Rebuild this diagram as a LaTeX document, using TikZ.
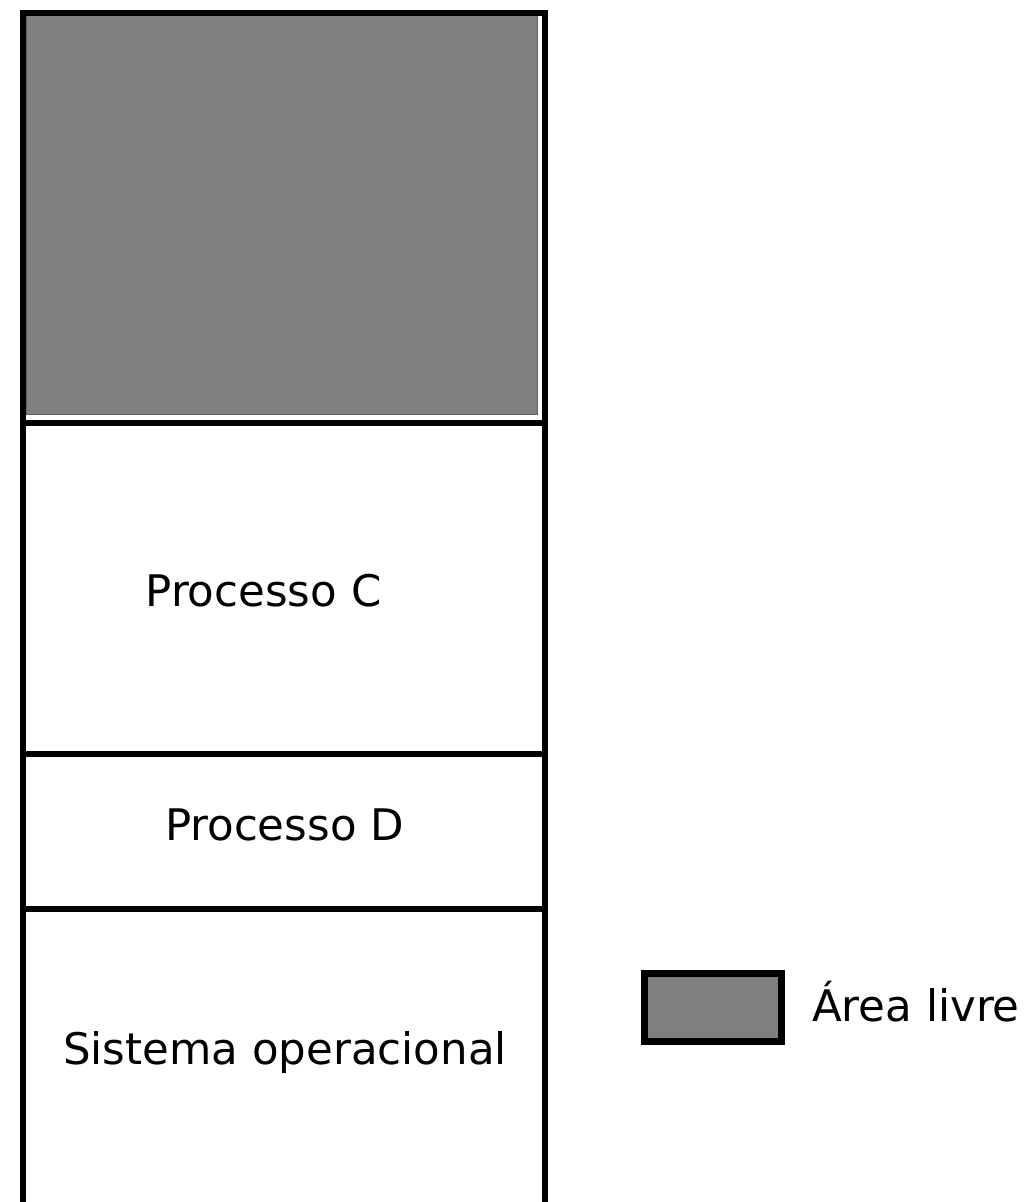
\documentclass[tikz,border=0pt]{standalone}
\usepackage{fontspec}
\setmainfont{DejaVu Sans}
\definecolor{livre}{RGB}{128,128,128}
\definecolor{livreedge}{RGB}{96,96,96}
\tikzset{
    wall/.style={
        draw=black,
        line width=6pt,
        line join=miter
    },
    freearea/.style={
        rectangle,
        fill=livre,
        draw=livreedge,
        line width=1pt,
        minimum width=511pt,
        minimum height=399pt,
        inner sep=0pt
    },
    keybox/.style={
        rectangle,
        fill=livre,
        draw=black,
        line width=7pt,
        minimum width=137pt,
        minimum height=68pt,
        inner sep=0pt
    },
    celltext/.style={
        font=\fontsize{43.5}{52}\selectfont,
        inner sep=0pt
    }
}
\begin{document}
\begin{tikzpicture}[x=1pt, y=-1pt]
\useasboundingbox (0,0) rectangle (1030,1202);

% free memory on top
\node[freearea] (free) at (282,214.5) {};

% column and partitions
\coordinate (bottomL) at (23,1215);
\coordinate (bottomR) at (545,1215);
\draw[wall] (bottomL) -- (23,12.5) -- (545,12.5) -- (bottomR);
\draw[wall] (23,422.5) -- (545,422.5);
\draw[wall] (23,754) -- (545,754);
\draw[wall] (23,908.5) -- (545,908.5);

\node[celltext, anchor=base] (procC) at (263.5,606.7) {Processo C};
\node[celltext, anchor=base] (procD) at (284.5,840) {Processo D};
\node[celltext, anchor=base] (so) at (285,1064) {Sistema operacional};

% legend
\node[keybox] (key) at (713,1007.6) {};
\node[celltext, anchor=base west] (keytext) at (812,1021.7) {Área livre};

\end{tikzpicture}
\end{document}
